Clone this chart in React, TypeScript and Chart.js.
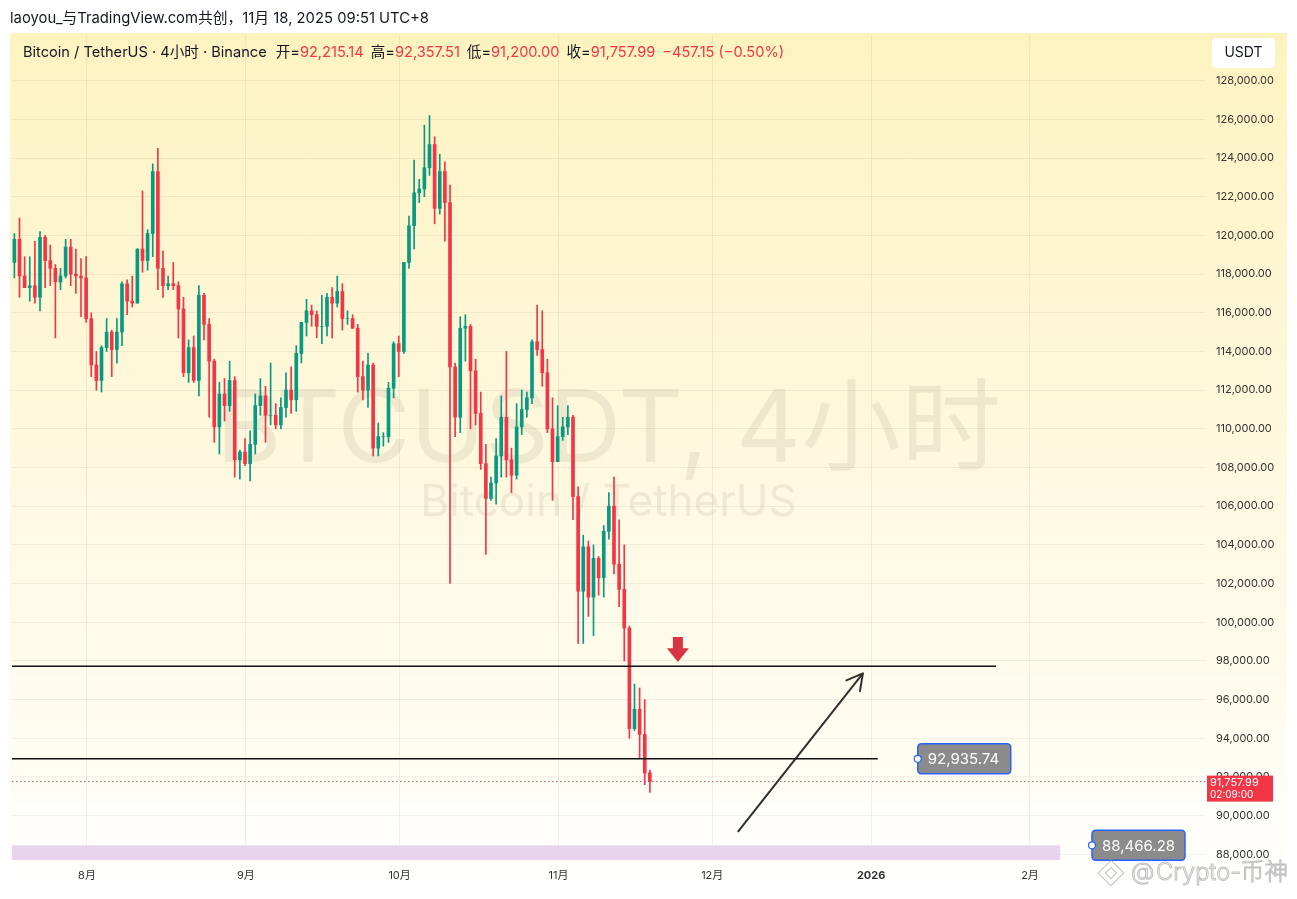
import React, { useEffect, useRef } from "react";
import { Chart, registerables } from "chart.js";

Chart.register(...registerables);

// ---------- DATA ----------
const firstDate = "2025-07-17"; // one daily candle per day from here
const opens = [
  118600, 119800, 117900, 117300, 117400, 116800, 119900, 118700, 118300, 117600, 117900, 119400, 118000, 117900, 117800,
  115700, 113300, 112500, 114200, 115000, 114100, 115000, 117500, 116600, 116500, 119300, 118700, 120100, 123300, 118300,
  117400, 117500, 117400, 116200, 112900, 114200, 112500, 116900, 115400, 113500, 110100, 111800, 111200, 112500, 108400, 108800,
  108200, 109200, 111200, 111700, 110700, 110700, 110200, 111100, 112000, 111500, 113900, 115500, 116100, 115900, 115300,
  115300, 116800, 116500, 117100, 115700, 115700, 115200, 112700, 112000, 113300, 109000, 109600, 109600, 112100, 114400,
  114000, 118600, 120500, 122200, 122400, 123500, 124700, 121400, 123300, 121700, 113200, 110600, 115200, 115300, 113000,
  110800, 108200, 106400, 107200, 108600, 110600, 108400, 107600, 110100, 111000, 111600, 114500, 114100, 112900, 110000, 108300,
  109600, 110100, 110600, 106500, 101600, 103900, 101300, 103300, 102300, 104700, 106000, 103000, 101700, 99700, 94500,
  95500, 94200, 92215,
];
const highs = [
  120100, 120900, 118900, 118900, 119700, 120200, 120000, 119500, 118500, 118300, 119800, 119800, 119300, 118800, 118900,
  116000, 114000, 114300, 115700, 115100, 115700, 117600, 117700, 117900, 119300, 122300, 120300, 123700, 124500, 119200,
  117900, 118600, 117600, 116800, 114600, 114800, 117400, 117000, 115700, 113600, 112400, 112600, 113500, 112700, 108900, 109500,
  109900, 111800, 112600, 112200, 113400, 111300, 111600, 112900, 113200, 114300, 115500, 116700, 116400, 116100, 116900,
  117000, 117300, 117900, 117500, 116100, 115900, 115400, 113500, 113900, 113400, 110300, 109800, 112400, 114500, 114800,
  118600, 121000, 123900, 122900, 125700, 126200, 125100, 124200, 123800, 122600, 113400, 115800, 115900, 115400, 113600,
  111900, 109200, 107500, 109500, 111700, 114000, 109000, 111300, 112000, 111900, 114600, 116400, 116100, 113600, 111600, 111200,
  110600, 111200, 110700, 107000, 104500, 104200, 104000, 103400, 105000, 106700, 107500, 105300, 104000, 99800, 96800,
  96600, 96000, 92358,
];
const lows = [
  117800, 116800, 117300, 116600, 116500, 116100, 117300, 117400, 114700, 117200, 117800, 117400, 117000, 115800, 115500,
  112700, 112000, 111900, 114000, 112700, 113400, 114300, 115900, 116300, 116500, 118100, 118200, 118900, 117200, 116800,
  117200, 117200, 114700, 112700, 112400, 112400, 111700, 114600, 110600, 109300, 108700, 110400, 110900, 107500, 107400, 108100,
  107300, 108700, 110700, 109300, 110200, 110000, 110000, 110600, 110800, 110900, 113400, 114800, 115300, 114700, 114400,
  114800, 114700, 116300, 115100, 115400, 115200, 111900, 111500, 111100, 108600, 108600, 109100, 109300, 111600, 112700,
  113900, 118300, 119300, 121700, 122000, 123100, 120600, 121100, 119700, 102000, 109600, 109800, 113500, 110000, 110200,
  107900, 103500, 106300, 106100, 107500, 107500, 106700, 107400, 109700, 110600, 111300, 113800, 112200, 109800, 106300, 108300,
  109400, 109700, 105300, 98900, 98900, 100300, 99300, 101400, 101300, 104300, 102500, 100800, 98000, 94000, 94400,
  93000, 91600, 91200,
];
const closes = [
  119800, 117900, 117300, 117400, 116800, 119900, 118700, 118300, 117600, 117900, 119400, 118000, 117900, 117800, 115700,
  113300, 112500, 114200, 115000, 114100, 115000, 117500, 116600, 116500, 119300, 118700, 120100, 123300, 118300, 117400,
  117500, 117400, 116200, 112900, 114200, 112500, 116900, 115400, 113500, 110100, 111800, 111200, 112500, 108400, 108800, 108200,
  109200, 111200, 111700, 110700, 110700, 110200, 111100, 112000, 111500, 113900, 115500, 116100, 115900, 115300, 115300,
  116800, 116500, 117100, 115700, 115700, 115200, 112700, 112000, 113300, 109000, 109600, 109600, 112100, 114400, 114000,
  118600, 120500, 122200, 122400, 123500, 124700, 121400, 123300, 121700, 113200, 110600, 115200, 115300, 113000, 110800,
  108200, 106400, 107200, 108600, 110600, 108400, 107600, 110100, 111000, 111600, 114500, 114100, 112900, 110000, 108300, 109600,
  110100, 110600, 106500, 101600, 103900, 101300, 103300, 102300, 104700, 106000, 103000, 101700, 99700, 94500, 95500,
  94200, 92200, 91757.99,
];

const monthTickDates = ["2025-08-01", "2025-09-01", "2025-10-01", "2025-11-01", "2025-12-01", "2026-01-01", "2026-02-01"];
const monthTickLabels = ["8月", "9月", "10月", "11月", "12月", "2026", "2月"];
const priceTicks = [
  88000, 90000, 92000, 94000, 96000, 98000, 100000, 102000, 104000, 106000, 108000,
  110000, 112000, 114000, 116000, 118000, 120000, 122000, 124000, 126000, 128000,
];

// visible range (days counted from 2025-08-01, prices in USDT)
const xMinDay = -14.63;
const xMaxDay = 218.15;
const priceMin = 87705;
const priceMax = 130363;

// drawings
const resistancePrice = 97720;
const resistanceEndDay = 177.4;
const supportPrice = 92935.74;
const supportEndDay = 154.3;
const supportLabelDay = 162.1;
const lastPrice = 91757.99;
const lastCountdown = "02:09:00";
const zoneTopPrice = 88466.28;
const zoneEndDay = 189.9;
const zoneLabelDay = 196.1;
const arrowStart = { day: 127.0, price: 89154 };
const arrowEnd = { day: 151.4, price: 97354 };
const markerDay = 115.3;
const markerTopPrice = 99236;
const markerBottomPrice = 97943;

// texts
const headerText = "laoyou_与TradingView.com共创，11月 18, 2025 09:51 UTC+8";
const symbolText = "Bitcoin / TetherUS · 4小时 · Binance";
const ohlcLabels = ["开=", "高=", "低=", "收="];
const ohlcValues = ["92,215.14", "92,357.51", "91,200.00", "91,757.99"];
const changeText = "−457.15 (−0.50%)";
const watermarkBig = "BTCUSDT, 4小时";
const watermarkSmall = "Bitcoin / TetherUS";
const currencyText = "USDT";
const creditText = "Crypto-币神";

// ---------- HELPERS ----------
const UP = "#089981";
const DOWN = "#f23645";
const FONT = 'Inter, "Noto Sans CJK SC", sans-serif';

function dayNum(s: string): number {
  const [y, m, d] = s.split("-").map(Number);
  return (Date.UTC(y, m - 1, d) - Date.UTC(2025, 7, 1)) / 86400000;
}
const fmt = (v: number) => v.toLocaleString("en-US", { minimumFractionDigits: 2, maximumFractionDigits: 2 });

const firstDay = dayNum(firstDate);
const candleX = opens.map((_, i) => firstDay + i + 20 / 24);
const candleColors = opens.map((o, i) => (closes[i] >= o ? UP : DOWN));
const tickDays = monthTickDates.map(dayNum);

function roundRect(ctx: CanvasRenderingContext2D, x: number, y: number, w: number, h: number, r: number) {
  ctx.beginPath();
  ctx.moveTo(x + r, y);
  ctx.lineTo(x + w - r, y);
  ctx.quadraticCurveTo(x + w, y, x + w, y + r);
  ctx.lineTo(x + w, y + h - r);
  ctx.quadraticCurveTo(x + w, y + h, x + w - r, y + h);
  ctx.lineTo(x + r, y + h);
  ctx.quadraticCurveTo(x, y + h, x, y + h - r);
  ctx.lineTo(x, y + r);
  ctx.quadraticCurveTo(x, y, x + r, y);
  ctx.closePath();
}

const backdropPlugin = {
  id: "backdrop",
  beforeDraw(chart: any) {
    const ctx: CanvasRenderingContext2D = chart.ctx;
    ctx.save();
    ctx.fillStyle = "#ffffff";
    ctx.fillRect(0, 0, chart.width, chart.height);
    const g = ctx.createLinearGradient(0, 33, 0, 887);
    g.addColorStop(0, "#fdf3c1");
    g.addColorStop(0.4, "#fef7d9");
    g.addColorStop(0.8, "#fffcef");
    g.addColorStop(1, "#ffffff");
    ctx.fillStyle = g;
    ctx.fillRect(10, 33, 1277, 854);
    ctx.fillStyle = "#131722";
    ctx.font = `14.8px ${FONT}`;
    ctx.textBaseline = "middle";
    ctx.fillText(headerText, 10, 19);
    ctx.restore();
  },
  beforeDatasetsDraw(chart: any) {
    const ctx: CanvasRenderingContext2D = chart.ctx;
    const { x, y } = chart.scales;
    const area = chart.chartArea;
    ctx.save();
    // watermark
    const cx = (area.left + area.right) / 2;
    ctx.fillStyle = "rgba(110,110,90,0.11)";
    ctx.textAlign = "center";
    ctx.textBaseline = "alphabetic";
    ctx.font = `100px ${FONT}`;
    ctx.fillText(watermarkBig, cx, 462);
    ctx.font = `44px ${FONT}`;
    ctx.fillText(watermarkSmall, cx, 516);
    // zone
    const zx = x.getPixelForValue(zoneEndDay);
    const zy = y.getPixelForValue(zoneTopPrice);
    ctx.fillStyle = "#e8d4ec";
    ctx.fillRect(area.left, zy, zx - area.left, area.bottom - zy);
    ctx.restore();
  },
  afterDraw(chart: any) {
    const ctx: CanvasRenderingContext2D = chart.ctx;
    const { x, y } = chart.scales;
    const area = chart.chartArea;
    ctx.save();

    // red marker arrow
    const mx = x.getPixelForValue(markerDay);
    const mTop = y.getPixelForValue(markerTopPrice);
    const mBot = y.getPixelForValue(markerBottomPrice);
    const headTop = mTop + (mBot - mTop) * 0.45;
    ctx.fillStyle = "#d93444";
    ctx.fillRect(mx - 5, mTop, 10, headTop - mTop + 1);
    ctx.beginPath();
    ctx.moveTo(mx - 11, headTop);
    ctx.lineTo(mx + 11, headTop);
    ctx.lineTo(mx, mBot);
    ctx.closePath();
    ctx.fill();

    // arrow head
    const ax0 = x.getPixelForValue(arrowStart.day);
    const ay0 = y.getPixelForValue(arrowStart.price);
    const ax1 = x.getPixelForValue(arrowEnd.day);
    const ay1 = y.getPixelForValue(arrowEnd.price);
    const ang = Math.atan2(ay1 - ay0, ax1 - ax0);
    ctx.strokeStyle = "#2f2f2f";
    ctx.lineWidth = 2;
    ctx.lineCap = "round";
    ctx.beginPath();
    for (const s of [-1, 1]) {
      ctx.moveTo(ax1, ay1);
      ctx.lineTo(ax1 - 18 * Math.cos(ang + s * 0.5), ay1 - 18 * Math.sin(ang + s * 0.5));
    }
    ctx.stroke();

    // price label boxes
    const box = (day: number, price: number) => {
      const bx = x.getPixelForValue(day);
      const by = y.getPixelForValue(price);
      ctx.fillStyle = "#8b8b8b";
      roundRect(ctx, bx, by - 15, 93, 30, 4);
      ctx.fill();
      ctx.strokeStyle = "#2962ff";
      ctx.lineWidth = 1.5;
      ctx.stroke();
      ctx.fillStyle = "#ffffff";
      ctx.font = `15px ${FONT}`;
      ctx.textAlign = "left";
      ctx.textBaseline = "middle";
      ctx.fillText(fmt(price), bx + 10, by + 1);
      ctx.beginPath();
      ctx.arc(bx, by, 3.5, 0, Math.PI * 2);
      ctx.fillStyle = "#ffffff";
      ctx.fill();
      ctx.strokeStyle = "#2962ff";
      ctx.lineWidth = 1.2;
      ctx.stroke();
    };
    box(supportLabelDay, supportPrice);
    box(zoneLabelDay, zoneTopPrice);

    // last price tag
    const ly = y.getPixelForValue(lastPrice);
    ctx.fillStyle = "#f23645";
    ctx.fillRect(area.right + 2, ly - 6, 66, 26);
    ctx.fillStyle = "#ffffff";
    ctx.textAlign = "left";
    ctx.textBaseline = "middle";
    ctx.font = `11px ${FONT}`;
    ctx.fillText(fmt(lastPrice), area.right + 5, ly + 1);
    ctx.font = `10px ${FONT}`;
    ctx.fillText(lastCountdown, area.right + 5, ly + 13);

    // USDT box
    ctx.fillStyle = "#ffffff";
    roundRect(ctx, 1212, 38, 63, 30, 5);
    ctx.fill();
    ctx.fillStyle = "#131722";
    ctx.font = `14px ${FONT}`;
    ctx.textAlign = "center";
    ctx.fillText(currencyText, 1243.5, 53);

    // legend line
    ctx.textAlign = "left";
    ctx.font = `14.6px ${FONT}`;
    let tx = 23;
    const seg = (t: string, c: string, gap: number) => {
      ctx.fillStyle = c;
      ctx.fillText(t, tx, 53);
      tx += ctx.measureText(t).width + gap;
    };
    seg(symbolText, "#131722", 9);
    ohlcLabels.forEach((l, i) => {
      seg(l, "#131722", 0);
      seg(ohlcValues[i], DOWN, 7);
    });
    seg(changeText, DOWN, 0);

    // credit watermark
    ctx.strokeStyle = "rgba(150,150,150,0.6)";
    ctx.fillStyle = "rgba(255,255,255,0.92)";
    ctx.lineWidth = 1;
    ctx.save();
    ctx.translate(1111, 873);
    ctx.rotate(Math.PI / 4);
    ctx.strokeRect(-9, -9, 18, 18);
    ctx.strokeRect(-4, -4, 8, 8);
    ctx.restore();
    ctx.textBaseline = "middle";
    ctx.font = `300 24px ${FONT}`;
    ctx.fillText("@", 1131, 873);
    ctx.strokeText("@", 1131, 873);
    ctx.font = `300 24px ${FONT}`;
    const w = ctx.measureText(creditText).width;
    const fs = (24 * 132) / w;
    ctx.font = `300 ${fs.toFixed(1)}px ${FONT}`;
    ctx.fillText(creditText, 1156, 873);
    ctx.strokeText(creditText, 1156, 873);
    ctx.restore();
  },
};

export default function App() {
  const ref = useRef<HTMLCanvasElement>(null);
  useEffect(() => {
    const canvas = ref.current!;
    const lineDs = (label: string, pts: { x: number; y: number }[], color: string, width: number, dash: number[] = []) => ({
      type: "line" as const,
      label,
      data: pts,
      borderColor: color,
      borderWidth: width,
      borderDash: dash,
      pointRadius: 0,
      fill: false,
      tension: 0,
    });
    const chart = new Chart(canvas, {
      type: "bar",
      data: {
        datasets: [
          lineDs("resistance", [{ x: xMinDay, y: resistancePrice }, { x: resistanceEndDay, y: resistancePrice }], "#111111", 1.5),
          lineDs("support", [{ x: xMinDay, y: supportPrice }, { x: supportEndDay, y: supportPrice }], "#111111", 1.5),
          lineDs("last", [{ x: xMinDay, y: lastPrice }, { x: xMaxDay, y: lastPrice }], "rgba(150,70,70,0.85)", 1, [1.5, 2.5]),
          lineDs("arrow", [{ x: arrowStart.day, y: arrowStart.price }, { x: arrowEnd.day, y: arrowEnd.price }], "#2f2f2f", 2),
          {
            type: "bar" as const,
            label: "bodies",
            data: candleX.map((cx, i) => ({ x: cx, y: [opens[i], closes[i]] })) as any,
            backgroundColor: candleColors,
            barThickness: 3,
            grouped: false,
          },
          {
            type: "bar" as const,
            label: "wicks",
            data: candleX.map((cx, i) => ({ x: cx, y: [lows[i], highs[i]] })) as any,
            backgroundColor: candleColors,
            barThickness: 1,
            grouped: false,
          },
        ] as any,
      },
      options: {
        responsive: false,
        animation: false,
        events: [],
        layout: { padding: { left: 12, top: 35, right: 0, bottom: 0 } },
        plugins: { legend: { display: false }, tooltip: { enabled: false } },
        scales: {
          x: {
            type: "linear",
            min: xMinDay,
            max: xMaxDay,
            offset: false,
            border: { display: false },
            grid: { color: "rgba(0,0,0,0.055)", drawTicks: false, offset: false },
            afterBuildTicks: (s: any) => {
              s.ticks = tickDays.map((v) => ({ value: v }));
            },
            afterFit: (s: any) => {
              s.height = 39;
            },
            ticks: {
              autoSkip: false,
              maxRotation: 0,
              padding: 9,
              color: "#333333",
              font: (c: any) => ({
                family: FONT,
                size: 11,
                weight: c.tick && monthTickLabels[tickDays.indexOf(c.tick.value)] === "2026" ? "bold" : "normal",
              }),
              callback: (v: any) => monthTickLabels[tickDays.indexOf(Number(v))] ?? "",
            },
          },
          y: {
            type: "linear",
            position: "right",
            min: priceMin,
            max: priceMax,
            border: { display: false },
            grid: { color: "rgba(0,0,0,0.055)", drawTicks: false },
            afterBuildTicks: (s: any) => {
              s.ticks = priceTicks.map((v) => ({ value: v }));
            },
            afterFit: (s: any) => {
              s.width = 92;
            },
            ticks: {
              autoSkip: false,
              padding: 11,
              color: "#333333",
              font: { family: FONT, size: 11 },
              callback: (v: any) => fmt(Number(v)),
            },
          },
        },
      } as any,
      plugins: [backdropPlugin],
    });
    return () => chart.destroy();
  }, []);
  return (
    <div style={{ position: "fixed", left: 0, top: 0, width: 1297, height: 899, background: "#ffffff" }}>
      <canvas ref={ref} width={1297} height={899} style={{ display: "block", width: 1297, height: 899 }} />
    </div>
  );
}
